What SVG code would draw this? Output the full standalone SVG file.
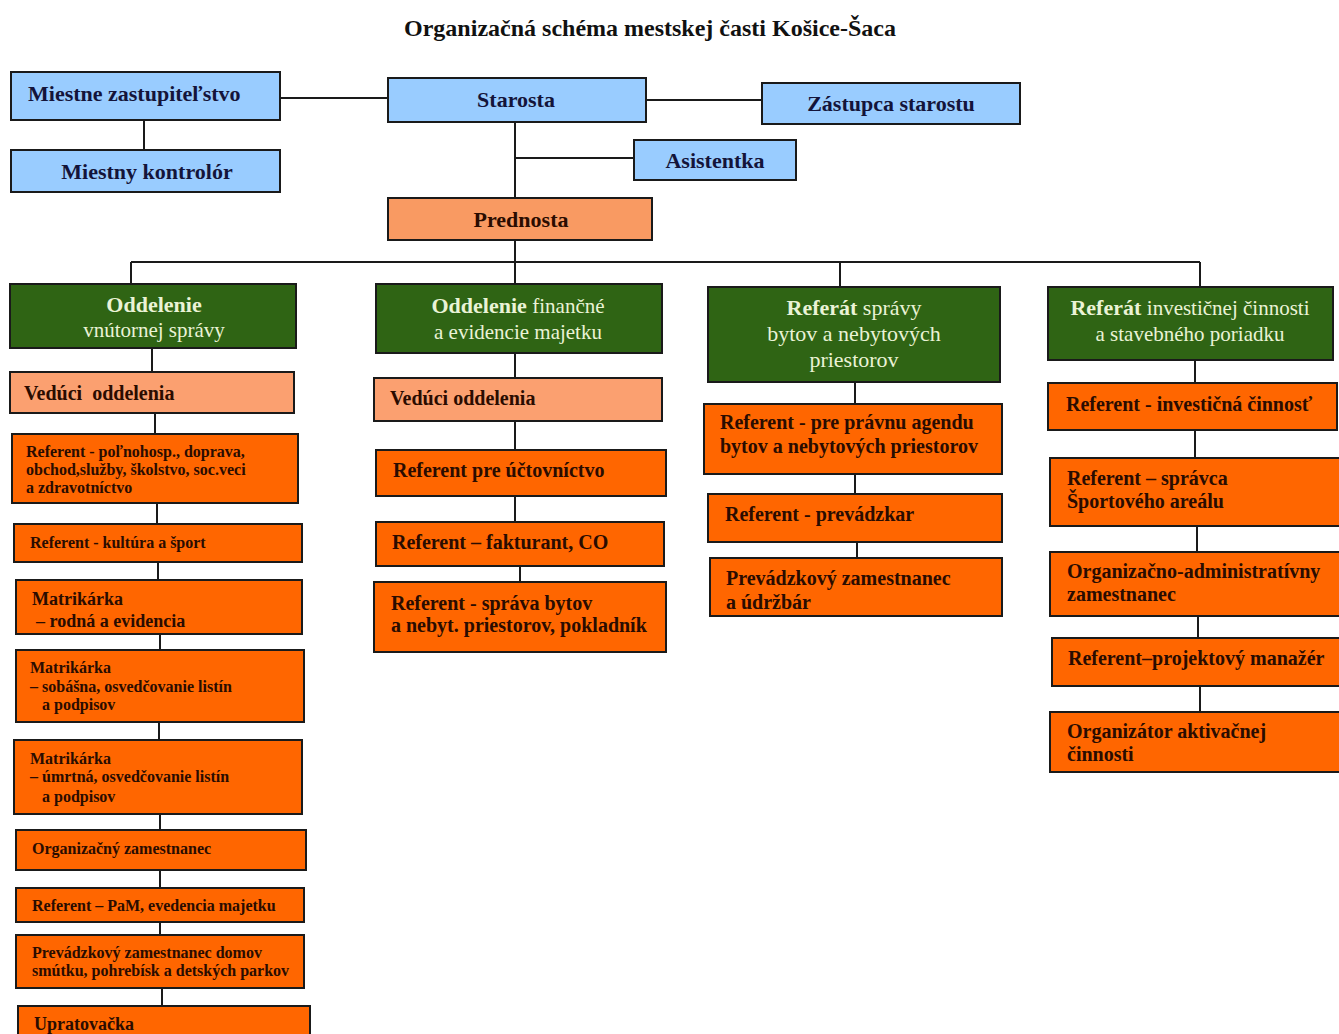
<svg xmlns="http://www.w3.org/2000/svg" width="1339" height="1034" viewBox="0 0 1339 1034">
<style>
text{font-family:"Liberation Serif","Times New Roman",serif;font-weight:bold}
.box rect{stroke:#1a1a1a;stroke-width:2}
.blue rect{fill:#99CCFF}
.blue text{fill:#14143a;font-size:22px}
.pred rect{fill:#F99A62}
.lead rect{fill:#FBA070}
.org rect{fill:#FF6600}
.org text,.lead text,.pred text{fill:#2a0c00}
.grn rect{fill:#2F6414}
.grn text{fill:#EAF3D6}
.reg{font-weight:normal}
.c line{stroke:#1a1a1a;stroke-width:2}
</style>
<rect width="1339" height="1034" fill="#ffffff"/>
<text x="650" y="36" text-anchor="middle" font-size="24" fill="#111">Organizačná schéma mestskej časti Košice-Šaca</text>

<g class="c" id="connectors">
<line x1="144" y1="120" x2="144" y2="150"/>
<line x1="280" y1="98" x2="388" y2="98"/>
<line x1="646" y1="100" x2="762" y2="100"/>
<line x1="515" y1="122" x2="515" y2="198"/>
<line x1="515" y1="158" x2="634" y2="158"/>
<line x1="515" y1="240" x2="515" y2="262"/>
<line x1="131" y1="262" x2="1200" y2="262"/>
<line x1="131" y1="262" x2="131" y2="284"/>
<line x1="515" y1="262" x2="515" y2="284"/>
<line x1="840" y1="262" x2="840" y2="287"/>
<line x1="1200" y1="262" x2="1200" y2="287"/>
<line x1="152" y1="348" x2="152" y2="372"/>
<line x1="155" y1="413" x2="155" y2="434"/>
<line x1="157" y1="503" x2="157" y2="524"/>
<line x1="158" y1="562" x2="158" y2="580"/>
<line x1="160" y1="634" x2="160" y2="650"/>
<line x1="159" y1="722" x2="159" y2="740"/>
<line x1="160" y1="814" x2="160" y2="830"/>
<line x1="160" y1="870" x2="160" y2="888"/>
<line x1="160" y1="922" x2="160" y2="935"/>
<line x1="162" y1="988" x2="162" y2="1006"/>
<line x1="515" y1="353" x2="515" y2="378"/>
<line x1="515" y1="421" x2="515" y2="450"/>
<line x1="515" y1="496" x2="515" y2="522"/>
<line x1="520" y1="566" x2="520" y2="582"/>
<line x1="855" y1="382" x2="855" y2="404"/>
<line x1="855" y1="474" x2="855" y2="494"/>
<line x1="857" y1="542" x2="857" y2="558"/>
<line x1="1195" y1="360" x2="1195" y2="383"/>
<line x1="1195" y1="430" x2="1195" y2="458"/>
<line x1="1197" y1="526" x2="1197" y2="552"/>
<line x1="1198" y1="616" x2="1198" y2="638"/>
<line x1="1200" y1="686" x2="1200" y2="712"/>
</g>

<g id="zastupitelstvo" class="box blue"><rect x="11" y="72" width="269" height="48"/><text x="28" y="101">Miestne zastupiteľstvo</text></g>
<g id="kontrolor" class="box blue"><rect x="11" y="150" width="269" height="42"/><text x="147" y="179" text-anchor="middle">Miestny kontrolór</text></g>
<g id="starosta" class="box blue"><rect x="388" y="78" width="258" height="44"/><text x="516" y="107" text-anchor="middle">Starosta</text></g>
<g id="zastupca" class="box blue"><rect x="762" y="83" width="258" height="41"/><text x="891" y="111" text-anchor="middle">Zástupca starostu</text></g>
<g id="asistentka" class="box blue"><rect x="634" y="140" width="162" height="40"/><text x="715" y="168" text-anchor="middle">Asistentka</text></g>
<g id="prednosta" class="box pred"><rect x="388" y="198" width="264" height="42"/><text x="521" y="227" text-anchor="middle" font-size="22">Prednosta</text></g>

<g id="odd-vnutornej" class="box grn"><rect x="10" y="284" width="286" height="64"/>
<text x="154" y="312" text-anchor="middle" font-size="22">Oddelenie</text>
<text x="154" y="337" text-anchor="middle" font-size="21" class="reg">vnútornej správy</text></g>
<g id="odd-financne" class="box grn"><rect x="376" y="284" width="286" height="69"/>
<text x="518" y="313" text-anchor="middle" font-size="22">Oddelenie <tspan class="reg" font-size="21">finančné</tspan></text>
<text x="518" y="339" text-anchor="middle" font-size="21" class="reg">a evidencie majetku</text></g>
<g id="ref-bytov" class="box grn"><rect x="708" y="287" width="292" height="95"/>
<text x="854" y="315" text-anchor="middle" font-size="22">Referát <tspan class="reg">správy</tspan></text>
<text x="854" y="341" text-anchor="middle" font-size="22" class="reg">bytov a nebytových</text>
<text x="854" y="367" text-anchor="middle" font-size="22" class="reg">priestorov</text></g>
<g id="ref-invest" class="box grn"><rect x="1048" y="287" width="285" height="73"/>
<text x="1190" y="315" text-anchor="middle" font-size="22">Referát <tspan class="reg" font-size="21">investičnej činnosti</tspan></text>
<text x="1190" y="341" text-anchor="middle" font-size="21" class="reg">a stavebného poriadku</text></g>

<g id="c1-veduci" class="box lead"><rect x="10" y="372" width="284" height="41"/><text x="24" y="400" font-size="20" xml:space="preserve">Vedúci  oddelenia</text></g>
<g id="c1-polnohosp" class="box org"><rect x="12" y="434" width="286" height="69"/>
<text x="26" y="457" font-size="16">Referent -  poľnohosp., doprava,</text>
<text x="26" y="475" font-size="16">obchod,služby, školstvo, soc.veci</text>
<text x="26" y="493" font-size="16">a zdravotníctvo</text></g>
<g id="c1-kultura" class="box org"><rect x="14" y="524" width="288" height="38"/><text x="30" y="548" font-size="16">Referent -  kultúra a šport</text></g>
<g id="c1-matrikarka-rodna" class="box org"><rect x="16" y="580" width="286" height="54"/>
<text x="32" y="605" font-size="18">Matrikárka</text>
<text x="36" y="627" font-size="18">– rodná a evidencia</text></g>
<g id="c1-matrikarka-sobasna" class="box org"><rect x="16" y="650" width="288" height="72"/>
<text x="30" y="673" font-size="16">Matrikárka</text>
<text x="30" y="692" font-size="16">– sobášna,  osvedčovanie listín</text>
<text x="42" y="710" font-size="16">a podpisov</text></g>
<g id="c1-matrikarka-umrtna" class="box org"><rect x="14" y="740" width="288" height="74"/>
<text x="30" y="764" font-size="16">Matrikárka</text>
<text x="30" y="782" font-size="16">– úmrtná, osvedčovanie listín</text>
<text x="42" y="802" font-size="16">a podpisov</text></g>
<g id="c1-organizacny" class="box org"><rect x="16" y="830" width="290" height="40"/><text x="32" y="854" font-size="16">Organizačný zamestnanec</text></g>
<g id="c1-pam" class="box org"><rect x="16" y="888" width="288" height="34"/><text x="32" y="911" font-size="16">Referent – PaM, evedencia majetku</text></g>
<g id="c1-prevadzkovy" class="box org"><rect x="16" y="935" width="288" height="53"/>
<text x="32" y="958" font-size="16">Prevádzkový zamestnanec  domov</text>
<text x="32" y="976" font-size="16">smútku, pohrebísk a detských parkov</text></g>
<g id="c1-upratovacka" class="box org"><rect x="18" y="1006" width="292" height="40"/><text x="34" y="1030" font-size="18">Upratovačka</text></g>

<g id="c2-veduci" class="box lead"><rect x="374" y="378" width="288" height="43"/><text x="390" y="405" font-size="20">Vedúci oddelenia</text></g>
<g id="c2-uctovnictvo" class="box org"><rect x="376" y="450" width="290" height="46"/><text x="393" y="477" font-size="20">Referent pre účtovníctvo</text></g>
<g id="c2-fakturant" class="box org"><rect x="376" y="522" width="288" height="44"/><text x="392" y="549" font-size="20">Referent – fakturant, CO</text></g>
<g id="c2-sprava" class="box org"><rect x="374" y="582" width="292" height="70"/>
<text x="391" y="610" font-size="20">Referent - správa bytov</text>
<text x="391" y="632" font-size="20">a nebyt. priestorov, pokladník</text></g>

<g id="c3-pravna" class="box org"><rect x="704" y="404" width="298" height="70"/>
<text x="720" y="429" font-size="20">Referent - pre právnu agendu</text>
<text x="720" y="453" font-size="20">bytov a nebytových priestorov</text></g>
<g id="c3-prevadzkar" class="box org"><rect x="708" y="494" width="294" height="48"/><text x="725" y="521" font-size="20">Referent - prevádzkar</text></g>
<g id="c3-udrzbar" class="box org"><rect x="710" y="558" width="292" height="58"/>
<text x="726" y="585" font-size="20">Prevádzkový zamestnanec</text>
<text x="726" y="609" font-size="20">a údržbár</text></g>

<g id="c4-investicna" class="box org"><rect x="1048" y="383" width="289" height="47"/><text x="1066" y="411" font-size="20">Referent - investičná činnosť</text></g>
<g id="c4-spravca" class="box org"><rect x="1050" y="458" width="291" height="68"/>
<text x="1067" y="485" font-size="20">Referent – správca</text>
<text x="1067" y="508" font-size="20">Športového areálu</text></g>
<g id="c4-administrativny" class="box org"><rect x="1050" y="552" width="291" height="64"/>
<text x="1067" y="578" font-size="20">Organizačno-administratívny</text>
<text x="1067" y="601" font-size="20">zamestnanec</text></g>
<g id="c4-projektovy" class="box org"><rect x="1052" y="638" width="289" height="48"/><text x="1068" y="665" font-size="20">Referent–projektový manažér</text></g>
<g id="c4-aktivacnej" class="box org"><rect x="1050" y="712" width="291" height="60"/>
<text x="1067" y="738" font-size="20">Organizátor aktivačnej</text>
<text x="1067" y="761" font-size="20">činnosti</text></g>
</svg>
